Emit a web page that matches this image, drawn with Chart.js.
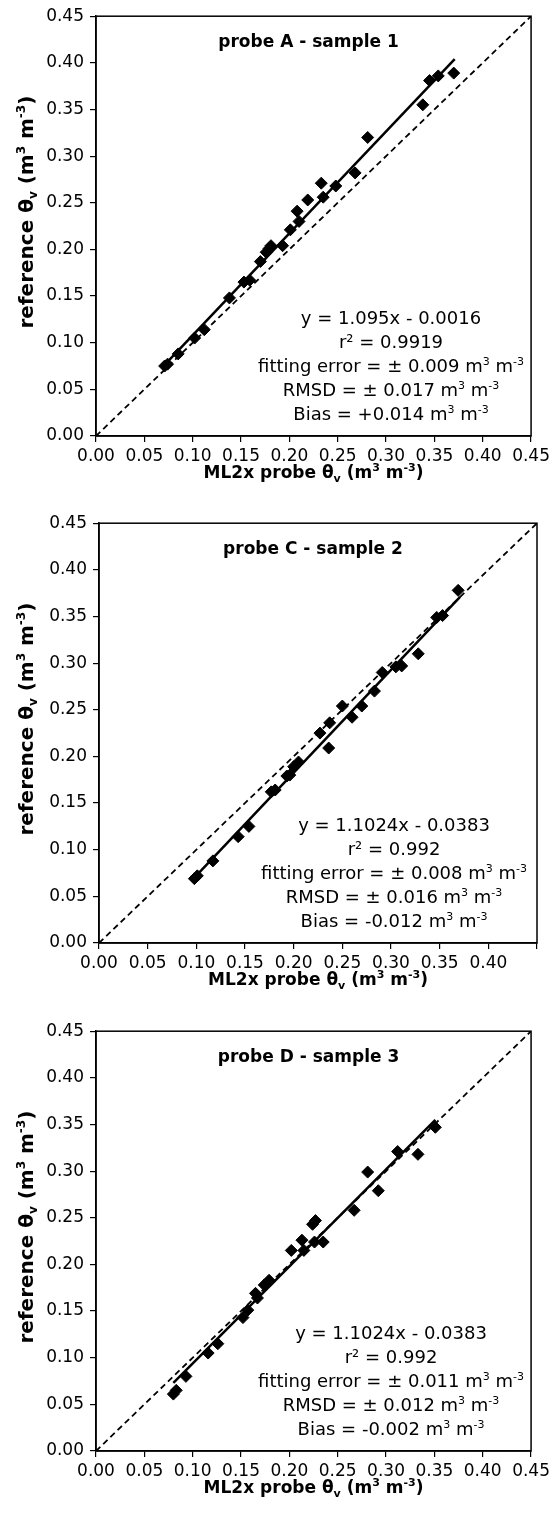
<!DOCTYPE html>
<html lang="en">
<head>
<meta charset="UTF-8">
<title>ML2x probe vs reference</title>
<script src="https://cdn.jsdelivr.net/npm/chart.js@4"></script>
<style>
  html, body { margin: 0; padding: 0; background: #fff; }
  .panel { position: absolute; left: 0; width: 554px; height: 500px; }
</style>
</head>
<body>
<div class="panel" style="top:0"><canvas id="c1" width="554" height="500"></canvas></div>
<div class="panel" style="top:507px"><canvas id="c2" width="554" height="500"></canvas></div>
<div class="panel" style="top:1015px"><canvas id="c3" width="554" height="500"></canvas></div>
<script>
// axes (same for all three panels)
const AXIS_MIN = 0
const AXIS_MAX = 0.45
const AXIS_STEP = 0.05
const xTitle = 'ML2x probe θ_{v} (m^{3} m^{-3})'
const yTitle = 'reference θ_{v} (m^{3} m^{-3})'

// 1:1 line
const oneToOneX = [0, 0.45]
const oneToOneY = [0, 0.45]

// probe A - sample 1
const titleA = 'probe A - sample 1'
const probeAX = [0.071, 0.074, 0.085, 0.102, 0.112, 0.138, 0.153, 0.159, 0.170, 0.176, 0.179, 0.181, 0.193,
  0.201, 0.210, 0.208, 0.219, 0.235, 0.233, 0.248, 0.268, 0.281, 0.338, 0.345, 0.354, 0.370]
const probeAY = [0.075, 0.077, 0.088, 0.105, 0.114, 0.148, 0.165, 0.167, 0.187, 0.197, 0.201, 0.204, 0.204,
  0.221, 0.230, 0.241, 0.253, 0.256, 0.271, 0.268, 0.282, 0.320, 0.355, 0.381, 0.386, 0.389]
const fitAX = [0.069, 0.371]
const fitAY = [0.074, 0.404]
const statsA = ['y = 1.095x - 0.0016', 'r² = 0.9919', 'fitting error = ± 0.009 m^{3} m^{-3}',
  'RMSD = ± 0.017 m^{3} m^{-3}', 'Bias = +0.014 m^{3} m^{-3}']

// probe C - sample 2
const titleC = 'probe C - sample 2'
const probeCX = [0.098, 0.101, 0.117, 0.143, 0.154, 0.177, 0.181, 0.193, 0.196, 0.200, 0.205, 0.236, 0.227,
  0.237, 0.260, 0.250, 0.270, 0.283, 0.291, 0.305, 0.311, 0.328, 0.347, 0.353, 0.369]
const probeCY = [0.069, 0.072, 0.088, 0.114, 0.125, 0.162, 0.164, 0.179, 0.180, 0.189, 0.194, 0.209, 0.225,
  0.236, 0.242, 0.254, 0.254, 0.270, 0.290, 0.296, 0.297, 0.310, 0.349, 0.351, 0.378]
const fitCX = [0.098, 0.371]
const fitCY = [0.070, 0.371]
const statsC = ['y = 1.1024x - 0.0383', 'r² = 0.992', 'fitting error = ± 0.008 m^{3} m^{-3}',
  'RMSD = ± 0.016 m^{3} m^{-3}', 'Bias = -0.012 m^{3} m^{-3}']

// probe D - sample 3
const titleD = 'probe D - sample 3'
const probeDX = [0.080, 0.083, 0.093, 0.116, 0.126, 0.152, 0.157, 0.167, 0.165, 0.174, 0.179, 0.202, 0.215,
  0.213, 0.226, 0.235, 0.224, 0.227, 0.267, 0.292, 0.281, 0.312, 0.333, 0.351]
const probeDY = [0.061, 0.065, 0.080, 0.105, 0.115, 0.143, 0.151, 0.164, 0.169, 0.178, 0.183, 0.215, 0.215,
  0.226, 0.224, 0.224, 0.243, 0.247, 0.258, 0.279, 0.299, 0.321, 0.318, 0.347]
const fitDX = [0.080, 0.351]
const fitDY = [0.073, 0.355]
const statsD = ['y = 1.1024x - 0.0383', 'r² = 0.992', 'fitting error = ± 0.011 m^{3} m^{-3}',
  'RMSD = ± 0.012 m^{3} m^{-3}', 'Bias = -0.002 m^{3} m^{-3}']

const FONT = '"DejaVu Sans"'
const INK = '#000'

// very small "rich text": ^{..} superscript, _{..} subscript
function parseRich(str) {
  return str.split(/(\^\{[^}]*\}|_\{[^}]*\})/).filter(Boolean).map(s => {
    if (s.startsWith('^{')) return { t: s.slice(2, -1), m: 'sup' }
    if (s.startsWith('_{')) return { t: s.slice(2, -1), m: 'sub' }
    return { t: s, m: '' }
  })
}

function richFont(weight, size, m) {
  const s = m ? Math.round(size * 0.62) : size
  return `${weight} ${s}px ${FONT}`
}

function drawRich(ctx, str, x, y, size, weight) {
  const parts = parseRich(str)
  let total = 0
  parts.forEach(p => {
    ctx.font = richFont(weight, size, p.m)
    p.w = ctx.measureText(p.t).width
    total += p.w
  })
  let cx = x - total / 2
  ctx.textAlign = 'left'
  ctx.textBaseline = 'alphabetic'
  parts.forEach(p => {
    ctx.font = richFont(weight, size, p.m)
    const dy = p.m === 'sup' ? -size * 0.4 : p.m === 'sub' ? size * 0.22 : 0
    ctx.fillText(p.t, cx, y + dy)
    cx += p.w
  })
}

const decor = {
  id: 'decor',
  afterDraw(chart, args, opts) {
    const { ctx, chartArea: a } = chart
    ctx.save()
    ctx.strokeStyle = INK
    ctx.lineWidth = 1.5
    ctx.strokeRect(a.left, a.top, a.right - a.left, a.bottom - a.top)
    ctx.fillStyle = INK
    const mid = (a.left + a.right) / 2
    drawRich(ctx, opts.title, mid - 5, a.top + 31, 17, 'bold')
    opts.stats.forEach((line, i) => {
      drawRich(ctx, line, a.left + 295, a.bottom - 112 + i * 24, 18, 'normal')
    })
    drawRich(ctx, xTitle, mid, a.bottom + 42, 17, 'bold')
    ctx.translate(33, (a.top + a.bottom) / 2 - 14)
    ctx.rotate(-Math.PI / 2)
    drawRich(ctx, yTitle, 0, 0, 20, 'bold')
    ctx.restore()
  }
}

function pairs(xs, ys) {
  return xs.map((x, i) => ({ x, y: ys[i] }))
}

function axis(hideMax) {
  return {
    type: 'linear',
    min: AXIS_MIN,
    max: AXIS_MAX,
    ticks: {
      stepSize: AXIS_STEP,
      autoSkip: false,
      maxRotation: 0,
      color: INK,
      font: { family: 'DejaVu Sans', size: 17 },
      callback: v => (hideMax && Math.abs(v - AXIS_MAX) < 1e-9) ? '' : v.toFixed(2)
    },
    grid: { drawOnChartArea: false, drawTicks: true, tickLength: 6, color: INK, lineWidth: 1.2 },
    border: { display: true, color: INK, width: 1.5 }
  }
}

function makePanel(id, left, right, title, xs, ys, fx, fy, stats, hideMax) {
  const x = axis(hideMax)
  x.ticks.padding = 4
  x.afterFit = s => { s.height = 64 }
  const y = axis(false)
  y.ticks.padding = 6
  y.afterFit = s => { s.width = left }
  new Chart(document.getElementById(id), {
    type: 'scatter',
    data: {
      datasets: [
        {
          label: 'measured',
          data: pairs(xs, ys),
          pointStyle: 'rectRot',
          pointRadius: 6,
          pointBackgroundColor: INK,
          pointBorderColor: INK,
          pointBorderWidth: 1
        },
        {
          label: 'fit',
          data: pairs(fx, fy),
          showLine: true,
          borderColor: INK,
          borderWidth: 2.5,
          pointRadius: 0
        },
        {
          label: '1:1',
          data: pairs(oneToOneX, oneToOneY),
          showLine: true,
          borderColor: INK,
          borderWidth: 1.8,
          borderDash: [6, 4],
          pointRadius: 0
        }
      ]
    },
    options: {
      responsive: false,
      animation: false,
      devicePixelRatio: 1,
      events: [],
      layout: { padding: { top: 16, right: 554 - right, left: 0, bottom: 0 } },
      scales: { x, y },
      plugins: {
        legend: { display: false },
        tooltip: { enabled: false },
        decor: { title, stats }
      }
    },
    plugins: [decor]
  })
}

makePanel('c1', 96, 534, titleA, probeAX, probeAY, fitAX, fitAY, statsA, false)
makePanel('c2', 99, 537, titleC, probeCX, probeCY, fitCX, fitCY, statsC, true)
makePanel('c3', 96, 533, titleD, probeDX, probeDY, fitDX, fitDY, statsD, false)
</script>
</body>
</html>
